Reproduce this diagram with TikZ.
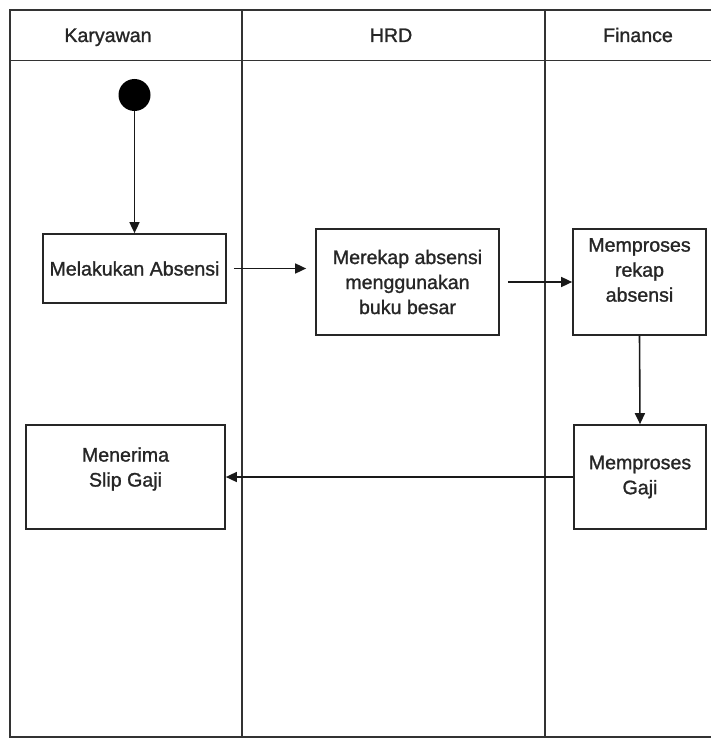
\documentclass[tikz,border=0pt]{standalone}
\usepackage{fontspec}
\setmainfont{Liberation Sans}
\newfontfamily\lblfont[FakeBold=1.2]{Liberation Sans}
\usetikzlibrary{arrows.meta}
\begin{document}
\begin{tikzpicture}[x=1pt,y=-1pt,
  lane/.style={draw=black!80, line width=1.8pt},
  actbox/.style={draw=black!85, line width=1.7pt, fill=white, inner sep=0pt,
    align=center, text=black!85, font=\lblfont\fontsize{19.6}{25}\selectfont},
  boxtext/.style={inner sep=0pt, align=center, text=black!85,
    font=\lblfont\fontsize{19.6}{25}\selectfont},
  head/.style={inner sep=0pt, anchor=base, text=black!85,
    font=\lblfont\fontsize{19.6}{25}\selectfont},
  flow/.style={draw=black!90, line width=1.6pt, -{Triangle[length=11pt,width=10pt]}}]
\useasboundingbox (0,0) rectangle (711,738);
\fill[white] (0,0) rectangle (711,738);

% swimlane frame
\draw[lane] (711,10) -- (10,10) -- (10,737) -- (711,737);
\draw[lane] (10,60.5) -- (711,60.5);
\draw[lane] (242,10) -- (242,737);
\draw[lane] (545,10) -- (545,737);

% lane titles
\node[head] (hk) at (108,42) {Karyawan};
\node[head] (hh) at (391,42) {HRD};
\node[head] (hf) at (638,42) {Finance};

% start node
\node[circle, fill=black, inner sep=0pt, minimum size=32pt] (start) at (134.5,95) {};

% activities
\node[actbox, minimum width=183pt, minimum height=69pt] (absen) at (134.5,268.5) {Melakukan Absensi};
\node[actbox, minimum width=183pt, minimum height=106pt] (rekap) at (407.5,282) {Merekap absensi\\menggunakan\\buku besar};
\node[actbox, minimum width=133pt, minimum height=106pt] (prosrekap) at (639.5,282) {};
\node[boxtext] (prosrekapt) at (639.5,270) {Memproses\\rekap\\absensi};
\node[actbox, minimum width=132pt, minimum height=104pt] (gaji) at (640,477) {Memproses\\Gaji};
\node[actbox, minimum width=199pt, minimum height=104pt] (slip) at (125.5,477) {};
\node[boxtext] (slipt) at (125.5,469) {Menerima\\Slip Gaji};

% control flow
\draw[flow] (start.south) -- (absen.north);
\draw[flow, shorten <=7pt, shorten >=9pt] (absen.east) -- (absen.east -| rekap.west);
\draw[flow, shorten <=8pt] (rekap.east) -- (prosrekap.west);
\draw[flow] (prosrekap.south) -- (gaji.north);
\draw[flow] (gaji.west) -- (slip.east);
\end{tikzpicture}
\end{document}
